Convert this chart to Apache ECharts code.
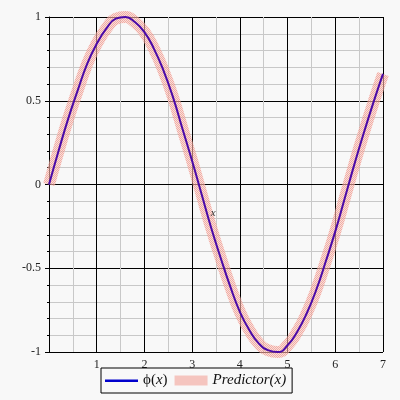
<!DOCTYPE html>
<html><head><meta charset="utf-8">
<script src="https://cdn.jsdelivr.net/npm/echarts@6/dist/echarts.min.js"></script>
<style>html,body{margin:0;padding:0;background:#f8f8f8}#c{width:400px;height:400px}</style>
</head><body><div id="c"></div>
<script>
const xs = [0,0.2,0.4,0.6,0.8,1.0,1.2,1.4,1.6,1.8,2.0,2.2,2.4,2.6,2.8,3.0,3.2,3.4,3.6,3.8,4.0,4.2,4.4,4.6,4.8,5.0,5.2,5.4,5.6,5.8,6.0,6.2,6.4,6.6,6.8,7.0];
const phi = [0,0.20,0.39,0.56,0.72,0.84,0.93,0.99,1.00,0.97,0.91,0.81,0.68,0.52,0.33,0.14,-0.06,-0.26,-0.44,-0.61,-0.76,-0.87,-0.95,-0.99,-1.00,-0.96,-0.88,-0.77,-0.63,-0.46,-0.28,-0.08,0.12,0.31,0.49,0.66];
const predictor = [0,0.20,0.39,0.56,0.72,0.84,0.93,0.99,1.00,0.97,0.91,0.81,0.68,0.52,0.33,0.14,-0.06,-0.26,-0.44,-0.61,-0.76,-0.87,-0.95,-0.99,-1.00,-0.96,-0.88,-0.77,-0.63,-0.46,-0.28,-0.08,0.12,0.31,0.49,0.66];
const xTicks = [1,2,3,4,5,6,7];
const yTicks = [-1,-0.5,0,0.5,1];
const xAxisName = 'x';
const xNameAt = [3.44, -0.17];

const cv = document.createElement('canvas');
cv.width = 2; cv.height = 2;
const cx = cv.getContext('2d');
cx.fillStyle = 'rgba(240,140,128,0.7)';
cx.fillRect(0,0,1,1); cx.fillRect(1,1,1,1);
cx.fillStyle = 'rgba(248,205,196,0.6)';
cx.fillRect(1,0,1,1); cx.fillRect(0,1,1,1);
const pat = {image: cv, repeat: 'repeat'};

const serif = 'Liberation Serif';
const chart = echarts.init(document.getElementById('c'));
chart.setOption({
  backgroundColor: '#f8f8f8',
  animation: false,
  grid: {left: 49, right: 17, top: 17, bottom: 48, containLabel: false},
  xAxis: {
    type: 'value', min: 0, max: 7, interval: 1,
    axisLine: {show: true, onZero: true, lineStyle: {color: '#000', width: 1}},
    axisTick: {show: false},
    axisLabel: {fontFamily: serif, fontSize: 12, color: '#222', margin: 7,
      formatter: v => xTicks.includes(v) ? String(v) : ''},
    splitLine: {show: true, lineStyle: {color: '#000', width: 1}},
    minorTick: {show: false, splitNumber: 2},
    minorSplitLine: {show: true, lineStyle: {color: '#c8c8c8', width: 1}}
  },
  yAxis: {
    type: 'value', min: -1, max: 1, interval: 0.5,
    axisLine: {show: true, onZero: false, lineStyle: {color: '#000', width: 1}},
    axisTick: {show: true, length: 4, inside: false, lineStyle: {color: '#000'}},
    minorTick: {show: true, splitNumber: 5, length: 2, lineStyle: {color: '#000'}},
    axisLabel: {fontFamily: serif, fontSize: 12, color: '#222', margin: 8,
      formatter: v => yTicks.includes(v) ? String(v) : ''},
    splitLine: {show: true, lineStyle: {color: '#000', width: 1}},
    minorSplitLine: {show: true, lineStyle: {color: '#c8c8c8', width: 1}}
  },
  legend: {
    left: 101, top: 368,
    orient: 'horizontal',
    borderColor: '#000', borderWidth: 1, borderRadius: 0,
    padding: [5, 6, 5, 4], itemGap: 7, itemWidth: 33, itemHeight: 10,
    data: [
      {name: 'phi', icon: 'path://M0,0 M0,4 L33,4 L33,6.4 L0,6.4 Z M33,10', itemStyle: {color: '#0000cc'}},
      {name: 'Predictor', icon: 'rect', itemStyle: {color: pat}}
    ],
    formatter: n => n === 'phi' ? '{u|ϕ(}{i|x}{u|)}' : 'Predictor(x)',
    textStyle: {
      fontFamily: serif, fontSize: 15, fontStyle: 'italic', color: '#111',
      rich: {
        u: {fontFamily: serif, fontSize: 15, fontStyle: 'normal', color: '#111'},
        i: {fontFamily: serif, fontSize: 15, fontStyle: 'italic', color: '#111'}
      }
    }
  },
  series: [
    {
      name: 'phi', type: 'line', symbol: 'none', smooth: true, clip: false, z: 5,
      data: xs.map((x, i) => [x, phi[i]]),
      lineStyle: {color: '#4a0aa8', width: 2},
      itemStyle: {color: '#0000cc'}
    },
    {
      name: 'Predictor', type: 'line', symbol: 'none', smooth: true, clip: false, z: 4,
      data: xs.map((x, i) => [x, predictor[i]]),
      lineStyle: {color: pat, width: 12},
      itemStyle: {color: pat}
    }
  ]
});
const p = chart.convertToPixel({gridIndex: 0}, xNameAt);
chart.setOption({
  graphic: [{
    type: 'text', x: p[0], y: p[1], z: 10,
    style: {text: xAxisName, fontFamily: serif, fontStyle: 'italic', fontSize: 11,
      fill: '#333', align: 'center', verticalAlign: 'middle'}
  }]
});
</script></body></html>
